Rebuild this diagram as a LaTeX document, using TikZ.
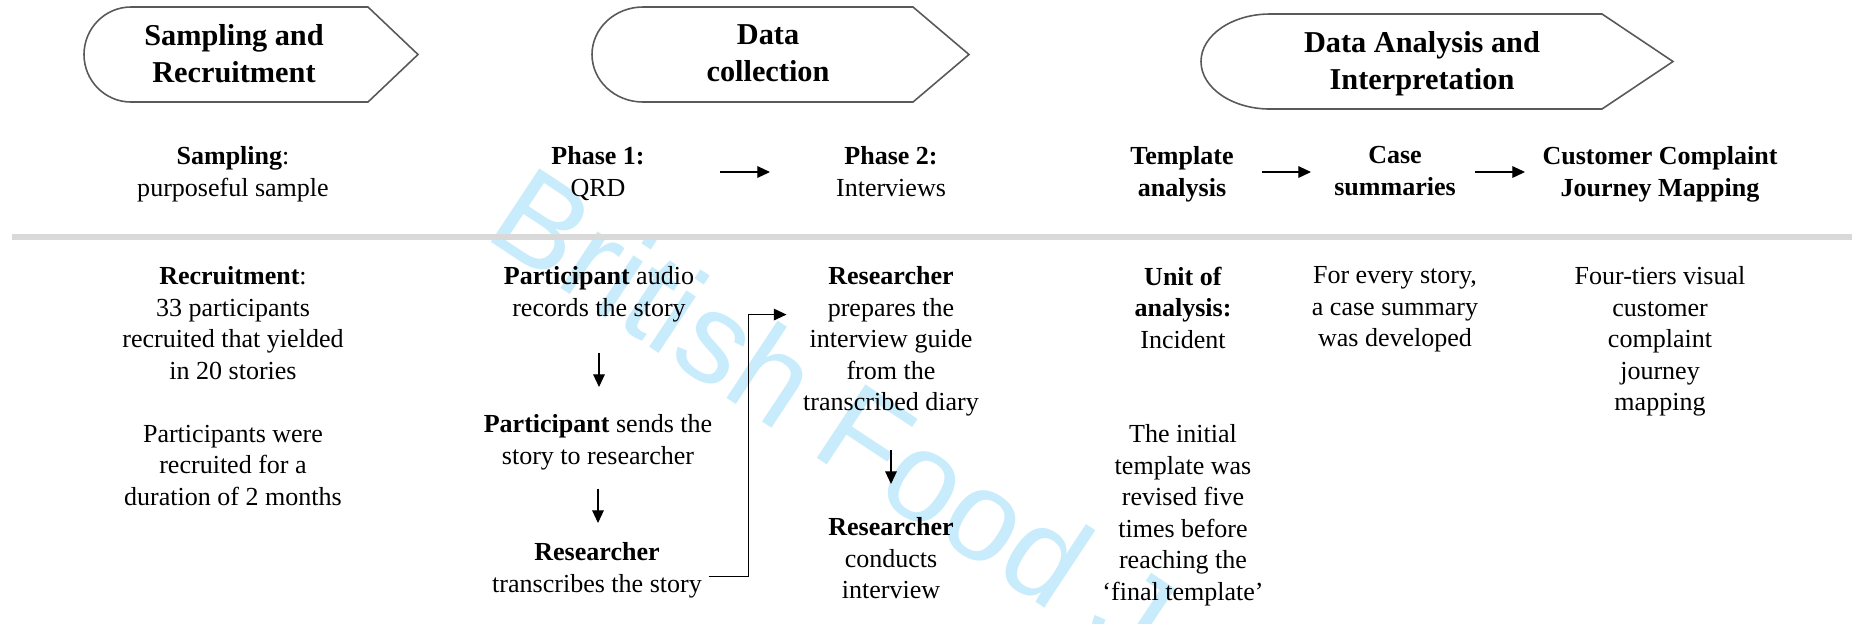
\documentclass[tikz,border=0pt]{standalone}
\usepackage{fontspec}
\setmainfont{Liberation Serif}
\newfontfamily\wmfont{Liberation Sans}
\usetikzlibrary{arrows.meta,calc}
\definecolor{hdgray}{RGB}{89,89,89}
\definecolor{divgray}{RGB}{217,217,217}
\definecolor{wmblue}{RGB}{200,236,251}
\begin{document}
\begin{tikzpicture}[x=0.01cm,y=-0.01cm,
  body/.style={font=\fontsize{7.4pt}{8.96pt}\selectfont, align=center, inner sep=0pt, anchor=north},
  headtxt/.style={font=\bfseries\fontsize{8.62pt}{10.53pt}\selectfont, align=center, inner sep=0pt, anchor=north},
  hshape/.style={draw=hdgray, line width=0.45pt},
  arr/.style={line width=0.35pt, -{Triangle[length=3.6pt,width=3.3pt]}},
  divider/.style={draw=divgray, line width=1.55pt}]
\useasboundingbox (0,0) rectangle (1852,623);
\fill[white] (0,0) rectangle (1852,623);
% watermark
\begin{scope}
\clip (0,0) rectangle (1852,623);
\node[rotate=-33.5, anchor=base west, text=wmblue, font=\wmfont\fontsize{36.4pt}{42pt}\selectfont, inner sep=0pt] (wm) at (482,236) {British Food Journal};
\end{scope}
% header shapes
\draw[hshape] (131,7) -- (368,7) -- (418,54.5) -- (368,102) -- (131,102)
  .. controls (105,102) and (84,80.7) .. (84,54.5)
  .. controls (84,28.3) and (105,7) .. (131,7) -- cycle;
\draw[hshape] (643,7) -- (913,7) -- (969,54.5) -- (913,102) -- (643,102)
  .. controls (614.8,102) and (592,80.7) .. (592,54.5)
  .. controls (592,28.3) and (614.8,7) .. (643,7) -- cycle;
\draw[hshape] (1270,14) -- (1602,14) -- (1673,61.5) -- (1602,109) -- (1270,109)
  .. controls (1231.9,109) and (1201,87.7) .. (1201,61.5)
  .. controls (1201,35.3) and (1231.9,14) .. (1270,14) -- cycle;
\node[headtxt] (h1) at (234,24) {Sampling and\\Recruitment};
\node[headtxt] (h2) at (768,24) {Data\\collection};
\node[headtxt] (h3) at (1422,31) {Data Analysis and\\Interpretation};
% row 2
\coordinate (row2) at (0,172);
\node[body] (samp) at (233,146) {\textbf{Sampling}:\\purposeful sample};
\node[body] (ph1) at (598,146) {\textbf{Phase 1:}\\QRD};
\node[body] (ph2) at (891,146) {\textbf{Phase 2:}\\Interviews};
\node[body] (tmpl) at (1182,146) {\textbf{Template}\\\textbf{analysis}};
\node[body] (case) at (1395,146) {\textbf{Case}\\\textbf{summaries}};
\node[body] (ccjm) at (1660,146) {\textbf{Customer Complaint}\\\textbf{Journey Mapping}};
\draw[arr] ($(ph1.center |- row2)+(122,0)$) -- ($(ph2.center |- row2)+(-121,0)$);
\draw[arr] ($(tmpl.center |- row2)+(80,0)$) -- ($(case.center |- row2)+(-84,0)$);
\draw[arr] ($(case.center |- row2)+(80,0)$) -- ($(ccjm.center |- row2)+(-135,0)$);
% divider
\coordinate (dl) at (12,237);
\coordinate (dr) at (1852,237);
\draw[divider] (dl) -- (dr);
% lower section
\node[body] (recr) at (233,266) {\textbf{Recruitment}:\\33 participants\\recruited that yielded\\in 20 stories\\[8.96pt]Participants were\\recruited for a\\duration of 2 months};
\node[body] (pa1) at (599,266) {\textbf{Participant} audio\\records the story};
\node[body] (pa2) at (598,414) {\textbf{Participant} sends the\\story to researcher};
\node[body] (rs1) at (597,542) {\textbf{Researcher}\\transcribes the story};
\node[body] (rp1) at (891,266) {\textbf{Researcher}\\prepares the\\interview guide\\from the\\transcribed diary};
\node[body] (rp2) at (891,517) {\textbf{Researcher}\\conducts\\interview};
\node[body] (ua) at (1183,266) {\textbf{Unit of}\\\textbf{analysis:}\\Incident\\[17.9pt]The initial\\template was\\revised five\\times before\\reaching the\\`final template'};
\node[body] (cs) at (1395,266) {For every story,\\a case summary\\was developed};
\node[body] (ft) at (1660,266) {Four-tiers visual\\customer\\complaint\\journey\\mapping};
\draw[arr, shorten <=0.30cm, shorten >=0.27cm] (pa1.south) -- (pa1.south |- pa2.north);
\draw[arr, shorten <=0.18cm, shorten >=0.19cm] (pa2.south) -- (pa2.south |- rs1.north);
\draw[arr, shorten <=0.33cm, shorten >=0.33cm] (rp1.south) -- (rp1.south |- rp2.north);
\draw[arr] ($(rs1.east)+(6,6)$) -- ++(40,0) |- ($(rp1.west)+(-16,-27)$);
\end{tikzpicture}
\end{document}
